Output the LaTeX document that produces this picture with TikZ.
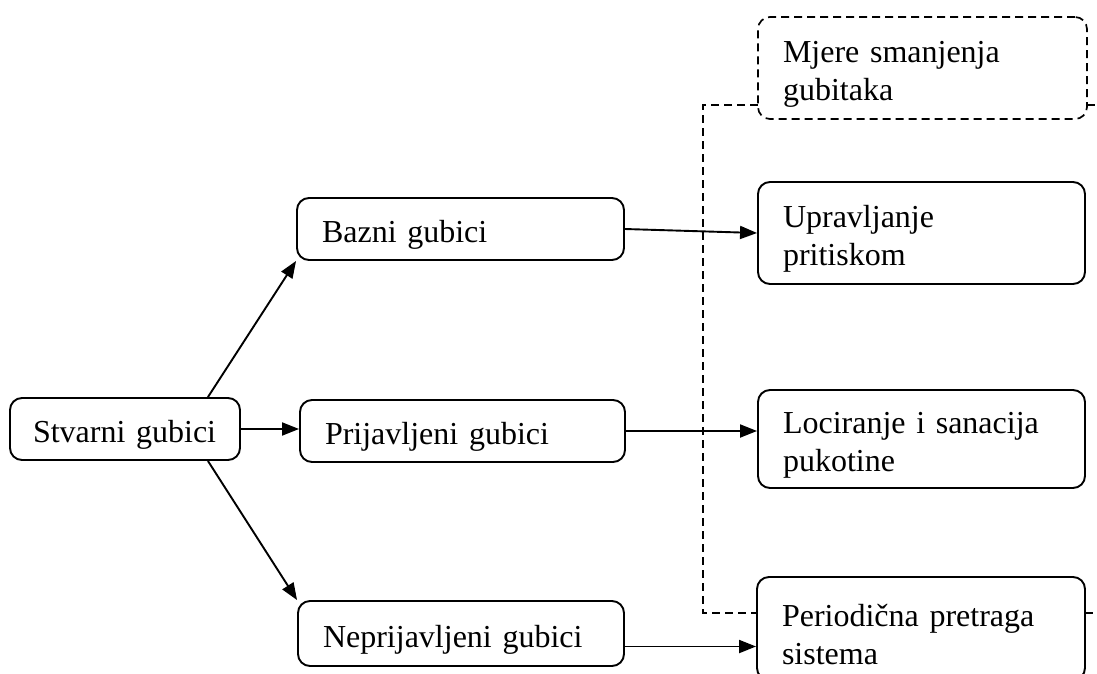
\documentclass[tikz,border=0pt]{standalone}
\usepackage{fontspec}
\setmainfont{Liberation Serif}
\usetikzlibrary{arrows.meta,calc}
\newcommand\boxstrut{\rule{0pt}{34pt}}
\begin{document}
\begin{tikzpicture}[x=1pt,y=-1pt,
  box/.style={draw,line width=1.9pt,rounded corners=12pt,fill=white,inner sep=0pt,
    align=left,font=\fontsize{32}{37.5}\selectfont},
  dbox/.style={box,line width=1.7pt,dash pattern=on 8pt off 5pt},
  arr/.style={line width=1.9pt,-{Triangle[length=17pt,width=13pt]}},
  frame/.style={line width=1.6pt,dash pattern=on 8pt off 5pt}]
\useasboundingbox (0,0) rectangle (1097,673);
% dashed frame (drawn first, boxes cover it)
\coordinate (f1) at (703,105);
\coordinate (f2) at (703,613);
\coordinate (f3) at (1097,105);
\coordinate (f4) at (1097,613);
\draw[frame] (f1 -| 758,0) -- (f1) -- (f2) -- (f2 -| 757,0);
\draw[frame] (f3 -| 1087,0) -- (f3);
\draw[frame] (f4 -| 1085,0) -- (f4);
% nodes
\node[box,minimum width=230pt,minimum height=62pt,text width=214pt] (st) at (125,429) {\boxstrut\hspace*{15pt}Stvarni gubici};
\node[box,minimum width=327pt,minimum height=62pt,text width=277pt] (ba) at (460.5,229) {\boxstrut Bazni gubici};
\node[box,minimum width=325pt,minimum height=62pt,text width=275pt] (pr) at (462.5,431) {\boxstrut Prijavljeni gubici};
\node[box,minimum width=326pt,minimum height=65pt,text width=276pt] (ne) at (461,633.5) {\boxstrut Neprijavljeni gubici};
\node[dbox,minimum width=329pt,minimum height=102pt,text width=279pt] (mj) at (922.5,68) {\boxstrut Mjere smanjenja\\gubitaka};
\node[box,minimum width=327pt,minimum height=102pt,text width=277pt] (up) at (921.5,233) {\boxstrut Upravljanje\\pritiskom};
\node[box,minimum width=327pt,minimum height=98pt,text width=277pt] (lo) at (921.5,439) {\boxstrut Lociranje i sanacija\\pukotine};
\node[box,minimum width=328pt,minimum height=103pt,text width=278pt] (pe) at (921,628.5) {\boxstrut Periodična pretraga\\sistema};
% connectors
\draw[arr] ([xshift=-33pt]st.north east) -- (ba.south west);
\draw[arr] ([xshift=-33pt]st.south east) -- (ne.north west);
\draw[arr] (st.east) -- (st.east -| pr.west);
\draw[arr] (ba.east) -- (up.west);
\draw[arr] (pr.east) -- (pr.east -| lo.west);
\draw[arr] ([yshift=-13pt]ne.east) -- ([yshift=-13pt]ne.east -| pe.west);
\end{tikzpicture}
\end{document}
